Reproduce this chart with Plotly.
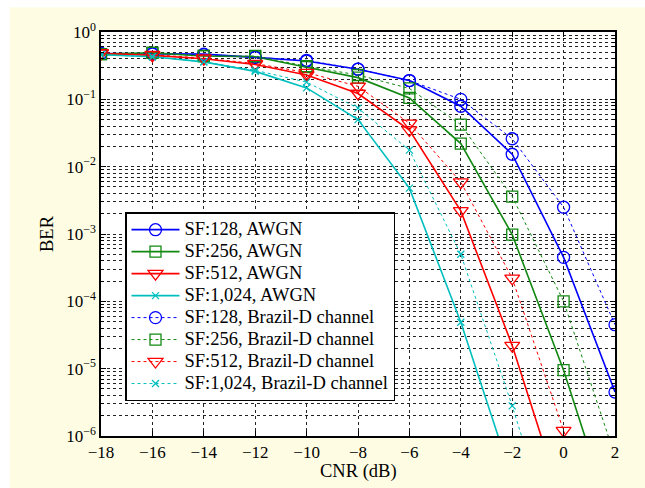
import plotly.graph_objects as go

cnr_db = [-18, -16, -14, -12, -10, -8, -6, -4, -2, 0, 2]

awgn_128 = [0.48, 0.47, 0.47, 0.42, 0.37, 0.28, 0.19, 0.079, 0.0153, 4.5e-4, 4.5e-6]
awgn_256 = [0.47, 0.49, 0.44, 0.43, 0.30, 0.21, 0.105, 0.022, 9.8e-4, 9.5e-6, 4e-8]
awgn_512 = [0.48, 0.45, 0.40, 0.33, 0.23, 0.122, 0.035, 2.2e-3, 2.2e-5, 9e-8, 1e-10]
awgn_1024 = [0.46, 0.43, 0.36, 0.26, 0.148, 0.05, 4.8e-3, 4.9e-5, 2.3e-7, 1e-9, 1e-11]

brazil_128 = [0.48, 0.48, 0.46, 0.42, 0.38, 0.28, 0.19, 0.10, 0.026, 2.5e-3, 4.5e-5]
brazil_256 = [0.47, 0.49, 0.44, 0.44, 0.31, 0.23, 0.145, 0.042, 3.6e-3, 1e-4, 5e-7]
brazil_512 = [0.49, 0.46, 0.41, 0.34, 0.25, 0.156, 0.044, 5.9e-3, 2.2e-4, 1.2e-6, 1e-8]
brazil_1024 = [0.46, 0.43, 0.36, 0.27, 0.18, 0.074, 0.0176, 5e-4, 2.8e-6, 1e-8, 1e-10]

x_ticks = [-18, -16, -14, -12, -10, -8, -6, -4, -2, 0, 2]
x_ticklabels = ["−18", "−16", "−14", "−12", "−10", "−8", "−6", "−4", "−2", "0", "2"]
y_ticks = [1, 1e-1, 1e-2, 1e-3, 1e-4, 1e-5, 1e-6]
y_ticklabels = ["10<sup>0</sup>", "10<sup>−1</sup>", "10<sup>−2</sup>", "10<sup>−3</sup>",
                "10<sup>−4</sup>", "10<sup>−5</sup>", "10<sup>−6</sup>"]

names = ["SF:128, AWGN", "SF:256, AWGN", "SF:512, AWGN", "SF:1,024, AWGN",
         "SF:128, Brazil-D channel", "SF:256, Brazil-D channel",
         "SF:512, Brazil-D channel", "SF:1,024, Brazil-D channel"]
series = [awgn_128, awgn_256, awgn_512, awgn_1024,
          brazil_128, brazil_256, brazil_512, brazil_1024]
colors = ["#0000FF", "#118811", "#FF0000", "#00BFBF"]
symbols = ["circle-open", "square-open", "triangle-down-open", "x-thin-open"]
sizes = [12, 11, 13, 7]

SERIF = "Liberation Serif, Times New Roman, serif"

fig = go.Figure()
for i, (name, ys) in enumerate(zip(names, series)):
    k = i % 4
    dotted = i >= 4
    fig.add_trace(go.Scatter(
        x=cnr_db, y=ys,
        name="<span style='font-size:18.5px'>" + name + "</span>",
        mode="lines+markers",
        line=dict(color=colors[k], width=1.0 if dotted else 1.6,
                  dash="dot" if dotted else "solid"),
        marker=dict(symbol=symbols[k], size=sizes[k], color=colors[k],
                    line=dict(color=colors[k], width=1.3)),
    ))

grid = dict(showgrid=True, gridcolor="#222222", gridwidth=1, griddash="dot")

fig.update_xaxes(
    range=[-18, 2], tickvals=x_ticks, ticktext=x_ticklabels, automargin=False,
    ticks="inside", ticklen=5, tickcolor="black", mirror="ticks",
    showline=True, linecolor="black", linewidth=1.5, zeroline=False,
    tickfont=dict(family=SERIF, size=17, color="black"),
    **grid,
)
fig.update_yaxes(
    type="log", range=[-6, 0], tickvals=y_ticks, ticktext=y_ticklabels, automargin=False,
    ticks="inside", ticklen=5, tickcolor="black", mirror="ticks",
    showline=True, linecolor="black", linewidth=1.5,
    tickfont=dict(family=SERIF, size=17, color="black"),
    title=dict(text="BER", font=dict(family=SERIF, size=18.5, color="black"), standoff=8),
    minor=dict(ticks="inside", ticklen=3, tickcolor="black", dtick="D1",
               showgrid=True, gridcolor="#222222", gridwidth=1, griddash="dot"),
    **grid,
)

fig.update_layout(
    width=645, height=488,
    margin=dict(l=101, r=30, t=32, b=52),
    paper_bgcolor="#FEFDE4", plot_bgcolor="white",
    showlegend=True,
    legend=dict(x=0.0467, y=0.554, xanchor="left", yanchor="top",
                bgcolor="white", bordercolor="black", borderwidth=1.5,
                font=dict(family=SERIF, size=14.6, color="black"),
                itemwidth=48, tracegroupgap=0),
    annotations=[
        dict(text="CNR (dB)", xref="paper", yref="paper", x=0.5, y=-0.087,
             xanchor="center", yanchor="middle", showarrow=False,
             font=dict(family=SERIF, size=18.5, color="black")),
    ],
    shapes=[
        dict(type="rect", xref="paper", yref="paper", x0=-0.3, x1=-0.177, y0=-0.2, y1=1.2,
             fillcolor="white", line=dict(width=0), layer="below"),
        dict(type="rect", xref="paper", yref="paper", x0=-0.3, x1=1.2, y0=1.061, y1=1.2,
             fillcolor="white", line=dict(width=0), layer="below"),
    ],
)

fig.write_html("out.html")
